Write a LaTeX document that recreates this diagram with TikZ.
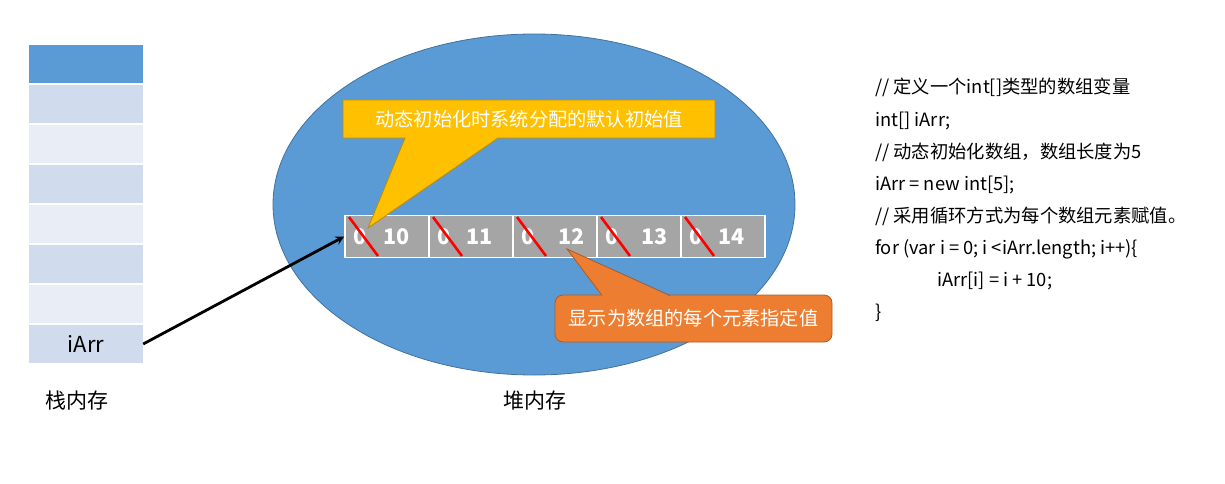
\documentclass[tikz,border=0pt]{standalone}
\usepackage{fontspec}
\setmainfont{Noto Sans CJK SC}
\definecolor{heapblue}{HTML}{5B9BD5}
\definecolor{heapedge}{HTML}{41719C}
\definecolor{stackdark}{HTML}{D0DCEE}
\definecolor{stacklight}{HTML}{E9EEF6}
\definecolor{arraygray}{HTML}{A5A5A5}
\definecolor{hintyellow}{HTML}{FFC000}
\definecolor{yellowedge}{HTML}{BC8C00}
\definecolor{hintorange}{HTML}{ED7D31}
\definecolor{orangeedge}{HTML}{AE5A21}
\tikzset{
  stackcell/.style={minimum width=114pt,minimum height=38pt,inner sep=0pt},
  arraycell/.style={fill=arraygray,draw=white,line width=1.5pt,minimum width=84pt,minimum height=42pt,inner sep=0pt},
  cellnum/.style={text=white,font=\bfseries\fontsize{21.5}{24}\selectfont,inner sep=0pt},
  slash/.style={red,line width=2.6pt},
  hinttext/.style={text=white,font=\fontsize{19.2}{22}\selectfont},
  codeline/.style={anchor=base west,inner sep=0pt,font=\fontsize{18.3}{21}\selectfont},
  caption/.style={font=\fontsize{21}{24}\selectfont}
}
\begin{document}
\begin{tikzpicture}[x=1pt,y=-1pt,>=stealth]
    \useasboundingbox (0,0) rectangle (1225,484);
    % stack memory
    \foreach \k/\c in {1/heapblue,2/stackdark,3/stacklight,4/stackdark,5/stacklight,6/stackdark,7/stacklight}
      \node[stackcell,fill=\c] (stack\k) at (86,{64+40*(\k-1)}) {};
    \node[stackcell,fill=stackdark,font=\fontsize{22}{26}\selectfont] (stack8) at (86,344) {iArr};
    \node[caption] (stacklabel) at (77,401) {栈内存};
    % heap memory
    \draw[fill=heapblue,draw=heapedge,line width=0.8pt] (534,204.5) ellipse [x radius=261pt,y radius=170.5pt];
    \node[caption] (heaplabel) at (535,401) {堆内存};
    % array cells
    \foreach \v/\o [count=\i] in {10/52,11/51,12/59,13/58,14/51} {
      \node[arraycell] (cell\i) at ({387+84*(\i-1)},236.5) {};
      \node[cellnum] (zero\i) at ([xshift=15.5pt]cell\i.west) {0};
      \node[cellnum] (val\i) at ([xshift=\o pt]cell\i.west) {\v};
      \draw[slash] ({345+84*(\i-1)+4},217) -- ++(29,39);
    }
    \draw[->,line width=2.8pt] (stack8.east) -- (cell1.west);
    % callout: default values
    \draw[fill=hintyellow,draw=yellowedge,line width=0.8pt]
      (343,100) -- (715,100) -- (715,138) -- (498,138) -- (368,228) -- (405,138) -- (343,138) -- cycle;
    \node[hinttext] (hintdefault) at (529,119) {动态初始化时系统分配的默认初始值};
    % callout: assigned values
    \node[fill=hintorange,draw=orangeedge,line width=0.8pt,rounded corners=8pt,
      minimum width=277pt,minimum height=47pt,inner sep=0pt] (hintassign) at (693.5,318.5) {};
    \fill[hintorange] (602,296.5) -- (567,249) -- (670,296.5) -- cycle;
    \draw[orangeedge,line width=0.8pt] (602,295.5) -- (567,249) -- (670,295.5);
    \node[hinttext] (hintassigntext) at (hintassign) {显示为数组的每个元素指定值};
    % code
    \node[codeline] (code1) at (875,94) {// 定义一个int[]类型的数组变量};
    \node[codeline] (code2) at (875,126) {int[] iArr;};
    \node[codeline] (code3) at (875,158) {// 动态初始化数组，数组长度为5};
    \node[codeline] (code4) at (875,190) {iArr = new int[5];};
    \node[codeline] (code5) at (875,222) {// 采用循环方式为每个数组元素赋值。};
    \node[codeline] (code6) at (875,254) {for (var i = 0; i <iArr.length; i++)\{};
    \node[codeline] (code7) at (937,286) {iArr[i] = i + 10;};
    \node[codeline] (code8) at (875,318) {\}};
  \end{tikzpicture}
\end{document}
